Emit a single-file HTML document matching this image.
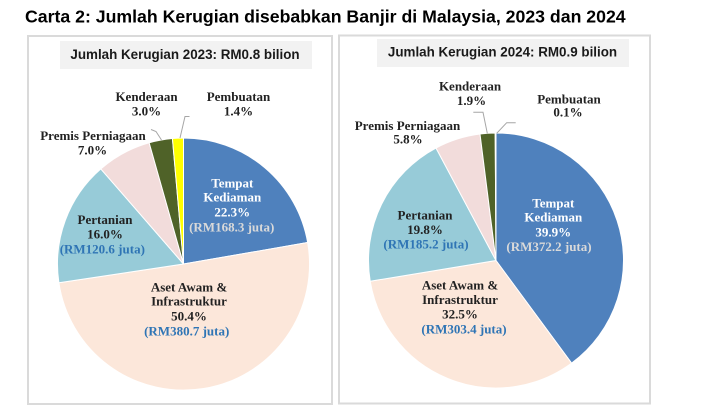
<!DOCTYPE html>
<html><head><meta charset="utf-8"><style>
html,body{margin:0;padding:0;background:#fff;}
svg{display:block;}
.t{font-family:"Liberation Sans",Arial,sans-serif;font-weight:bold;}
.s{font-family:"Liberation Serif","Times New Roman",serif;font-weight:bold;font-size:13px;}
</style></head><body>
<svg width="712" height="416" viewBox="0 0 712 416" xmlns="http://www.w3.org/2000/svg">
<rect width="712" height="416" fill="#fff"/>
<text class="t" x="25" y="22.7" font-size="17.7" fill="#000">Carta 2: Jumlah Kerugian disebabkan Banjir di Malaysia, 2023 dan 2024</text>

<!-- panels -->
<rect x="28" y="36" width="304" height="368" fill="#fff" stroke="#dadada" stroke-width="2"/>
<rect x="339" y="35.5" width="311" height="368" fill="#fff" stroke="#dadada" stroke-width="2"/>

<rect x="60" y="41" width="252" height="28" fill="#f2f2f2"/>
<text class="t" x="185" y="59" font-size="13.4" text-anchor="middle" fill="#1a1a1a">Jumlah Kerugian 2023: RM0.8 bilion</text>
<rect x="377" y="39" width="252" height="28" fill="#f2f2f2"/>
<text class="t" x="502.5" y="56.7" font-size="13.4" text-anchor="middle" fill="#1a1a1a">Jumlah Kerugian 2024: RM0.9 bilion</text>

<!-- left pie: c(183.5,264) r126 -->
<g stroke="#fff" stroke-width="1" stroke-linejoin="round">
<path d="M183.5,264 L183.5,138 A126,126 0 0 1 307.66,242.55 Z" fill="#4f81bd"/>
<path d="M183.5,264 L307.66,242.55 A126,126 0 1 1 58.90,282.71 Z" fill="#fce7da"/>
<path d="M183.5,264 L58.90,282.71 A126,126 0 0 1 100.84,168.91 Z" fill="#97cbd8"/>
<path d="M183.5,264 L100.84,168.91 A126,126 0 0 1 149.15,142.77 Z" fill="#f2dcdb"/>
<path d="M183.5,264 L149.15,142.77 A126,126 0 0 1 172.43,138.49 Z" fill="#4f6228"/>
<path d="M183.5,264 L172.43,138.49 A126,126 0 0 1 183.5,138 Z" fill="#ffff00"/>
</g>
<!-- left leaders -->
<g stroke="#a6a6a6" stroke-width="1" fill="none">
<polyline points="151,129.5 156,131.5 161.5,140"/>
<polyline points="189.5,116.5 185,116.5 180,138"/>
</g>
<!-- left labels -->
<g class="s" text-anchor="middle" fill="#222">
<text x="146.5" y="101">Kenderaan</text>
<text x="146.5" y="115.5">3.0%</text>
<text x="238.5" y="101">Pembuatan</text>
<text x="238.5" y="115.5">1.4%</text>
<text x="93" y="140">Premis Perniagaan</text>
<text x="92.5" y="154.5">7.0%</text>
<text x="232.3" y="187.3" fill="#fff">Tempat</text>
<text x="232.3" y="201.7" fill="#fff">Kediaman</text>
<text x="232.3" y="216.7" fill="#fff">22.3%</text>
<text x="231.7" y="231.7" fill="#d9d9d9">(RM168.3 juta)</text>
<text x="105" y="224">Pertanian</text>
<text x="105" y="238.3">16.0%</text>
<text x="102.3" y="253.3" fill="#2f75b5">(RM120.6 juta)</text>
<text x="189" y="291.7">Aset Awam &amp;</text>
<text x="189" y="305.7">Infrastruktur</text>
<text x="189" y="320.7">50.4%</text>
<text x="186.7" y="335.7" fill="#2f75b5">(RM380.7 juta)</text>
</g>

<!-- right pie: c(496,260.5) r127.5 -->
<g stroke="#fff" stroke-width="1" stroke-linejoin="round">
<path d="M496,260.5 L496,133 A127.5,127.5 0 0 1 571.59,363.18 Z" fill="#4f81bd"/>
<path d="M496,260.5 L571.59,363.18 A127.5,127.5 0 0 1 370.20,281.24 Z" fill="#fce7da"/>
<path d="M496,260.5 L370.20,281.24 A127.5,127.5 0 0 1 435.99,148.01 Z" fill="#97cbd8"/>
<path d="M496,260.5 L435.99,148.01 A127.5,127.5 0 0 1 480.02,134.01 Z" fill="#f2dcdb"/>
<path d="M496,260.5 L480.02,134.01 A127.5,127.5 0 0 1 495.20,133.0 Z" fill="#4f6228"/>
<path d="M496,260.5 L495.20,133.0 A127.5,127.5 0 0 1 496,133 Z" fill="#ffff00"/>
</g>
<g stroke="#a6a6a6" stroke-width="1" fill="none">
<polyline points="473.3,112.3 483,112.3 487.3,133.3"/>
<polyline points="515.7,122.7 506.7,122.7 496.7,133.3"/>
</g>
<g class="s" text-anchor="middle" fill="#222">
<text x="470" y="90.7">Kenderaan</text>
<text x="471.5" y="105">1.9%</text>
<text x="569" y="103.3">Pembuatan</text>
<text x="568" y="116.7">0.1%</text>
<text x="407.5" y="130">Premis Perniagaan</text>
<text x="408" y="143.3">5.8%</text>
<text x="553.3" y="207.7" fill="#fff">Tempat</text>
<text x="553.3" y="221.7" fill="#fff">Kediaman</text>
<text x="553.3" y="236.7" fill="#fff">39.9%</text>
<text x="549" y="251" fill="#d9d9d9">(RM372.2 juta)</text>
<text x="425" y="219.3">Pertanian</text>
<text x="425" y="234">19.8%</text>
<text x="426" y="248.3" fill="#2f75b5">(RM185.2 juta)</text>
<text x="460" y="289.3">Aset Awam &amp;</text>
<text x="460" y="304">Infrastruktur</text>
<text x="460" y="318.3">32.5%</text>
<text x="464" y="333.3" fill="#2f75b5">(RM303.4 juta)</text>
</g>
</svg>
</body></html>
